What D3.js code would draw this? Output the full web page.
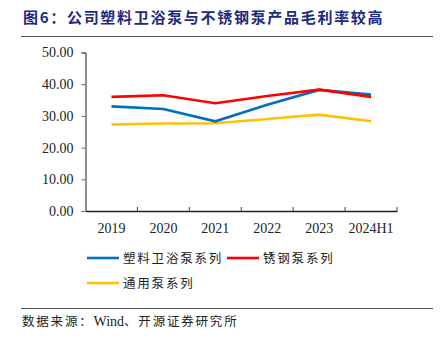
<!DOCTYPE html>
<html>
<head>
<meta charset="utf-8">
<script src="https://cdn.jsdelivr.net/npm/d3@7"></script>
<style>
  body { margin: 0; background: #fff; }
  svg { display: block; }
</style>
</head>
<body>
<div id="chart"></div>
<script>
// categories and series (毛利率, %)
const years = ['2019', '2020', '2021', '2022', '2023', '2024H1']
const plasticPump = [33.0, 32.2, 28.3, 33.5, 38.2, 36.7]
const steelPump = [36.0, 36.5, 34.0, 36.3, 38.3, 36.0]
const generalPump = [27.3, 27.6, 27.7, 29.0, 30.4, 28.3]
const yTicks = [0, 10, 20, 30, 40, 50]

const series = [
  { name: '塑料卫浴泵系列', values: plasticPump, color: '#0070C0' },
  { name: '锈钢泵系列', values: steelPump, color: '#FF0000' },
  { name: '通用泵系列', values: generalPump, color: '#FFC000' }
]

const width = 444
const height = 344
const margin = { top: 52.5, right: 47, bottom: 133, left: 85.5 }
const innerWidth = width - margin.left - margin.right
const innerHeight = height - margin.top - margin.bottom

const svg = d3.select('#chart').append('svg')
  .attr('width', width).attr('height', height)

const serif = '"Liberation Serif", "Times New Roman", serif'
const cjk = '"Noto Sans CJK SC", sans-serif'

// titel
svg.append('text')
  .attr('x', 23).attr('y', 23)
  .attr('fill', '#1c2a80')
  .attr('font-family', cjk)
  .attr('font-size', 15)
  .attr('font-weight', 'bold')
  .attr('letter-spacing', 1.7)
  .text('图6：公司塑料卫浴泵与不锈钢泵产品毛利率较高')

svg.append('line')
  .attr('x1', 21).attr('x2', 433).attr('y1', 36.5).attr('y2', 36.5)
  .attr('stroke', '#555').attr('stroke-width', 1)
svg.append('line')
  .attr('x1', 21).attr('x2', 433).attr('y1', 308.5).attr('y2', 308.5)
  .attr('stroke', '#555').attr('stroke-width', 1)

const xScale = d3.scaleBand().domain(years).range([0, innerWidth])
const yScale = d3.scaleLinear().domain([0, 50]).range([innerHeight, 0])

const g = svg.append('g')
  .attr('transform', `translate(${margin.left}, ${margin.top})`)

// y-as
const yAxis = g.append('g')
  .call(d3.axisLeft(yScale).tickValues(yTicks).tickFormat(d3.format('.2f')).tickSize(4).tickPadding(8))
  .attr('font-family', serif).attr('font-size', 14)
yAxis.select('.domain').attr('d', `M-4,0.5H0.5V${innerHeight + 0.5}`).attr('stroke', '#222')
yAxis.selectAll('.tick line').attr('stroke', '#666')
yAxis.selectAll('text').attr('fill', '#222')

// x-as
const xAxis = g.append('g')
  .attr('transform', `translate(0, ${innerHeight})`)
  .call(d3.axisBottom(xScale).tickSize(0).tickPadding(12))
  .attr('font-family', serif).attr('font-size', 14)
xAxis.select('.domain').attr('stroke', '#222').attr('stroke-width', 1.3)
xAxis.selectAll('text').attr('fill', '#222')
// tick marks tussen de categorieen
g.append('g').selectAll('line')
  .data(years)
  .enter().append('line')
  .attr('x1', d => xScale(d) + xScale.bandwidth())
  .attr('x2', d => xScale(d) + xScale.bandwidth())
  .attr('y1', innerHeight - 4).attr('y2', innerHeight)
  .attr('stroke', '#444')

const line = d3.line()
  .x((d, i) => xScale(years[i]) + xScale.bandwidth() / 2)
  .y(d => yScale(d))

// yellow first, then blue, then red on top
const drawOrder = [series[2], series[0], series[1]]
g.selectAll('.serie').data(drawOrder)
  .enter().append('path')
  .attr('class', 'serie')
  .attr('d', d => line(d.values))
  .attr('fill', 'none')
  .attr('stroke', d => d.color)
  .attr('stroke-width', 2.6)

// legenda
const legendPos = [[87, 258], [227, 258], [87, 283]]
const legend = svg.append('g').selectAll('g').data(series)
  .enter().append('g')
  .attr('transform', (d, i) => `translate(${legendPos[i][0]}, ${legendPos[i][1]})`)
legend.append('line')
  .attr('x1', 0).attr('x2', 32).attr('y1', 0).attr('y2', 0)
  .attr('stroke', d => d.color).attr('stroke-width', 2.6)
legend.append('text')
  .attr('x', 36).attr('y', 5)
  .attr('font-family', cjk).attr('font-size', 12.5)
  .attr('letter-spacing', 1.8)
  .attr('fill', '#222')
  .text(d => d.name)

// bron
const source = svg.append('text')
  .attr('x', 22).attr('y', 326)
  .attr('font-family', cjk).attr('font-size', 12.5)
  .attr('fill', '#222')
source.append('tspan').attr('letter-spacing', 1.8).text('数据来源：')
source.append('tspan').attr('font-family', serif).attr('font-size', 14).text('Wind')
source.append('tspan').attr('letter-spacing', 1.8).text('、开源证券研究所')
</script>
</body>
</html>
